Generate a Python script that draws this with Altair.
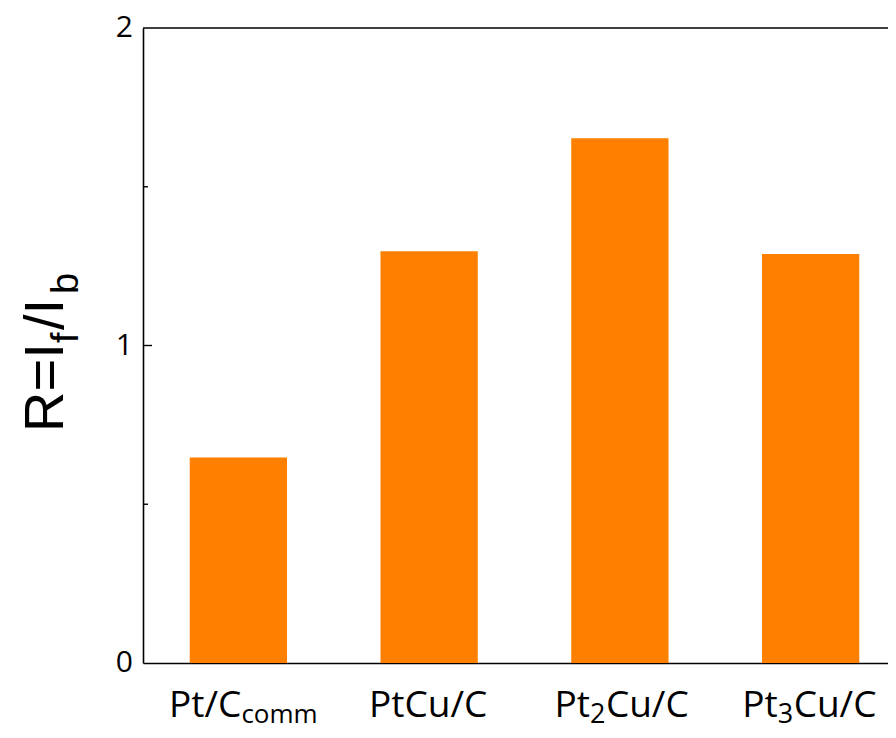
import altair as alt
import pandas as pd

# ---- data ----
categories = ["Pt/C_comm", "PtCu/C", "Pt2Cu/C", "Pt3Cu/C"]
ratios = [0.647, 1.297, 1.653, 1.288]
label_main = ["Pt/C", "PtCu/C", "Pt", "Pt"]
label_sub = ["comm", "", "2", "3"]
label_tail = ["", "", "Cu/C", "Cu/C"]
y_major = [0, 1, 2]
y_minor = [0.5, 1.5]
title_parts = ["R=I", "f", "/I", "b"]

df = pd.DataFrame({"cat": categories, "R": ratios,
                   "main": label_main, "sub": label_sub, "tail": label_tail})

W, H = 745, 635
LABEL_FONT = "Open Sans"
TITLE_FONT = "Liberation Sans"

xscale = alt.Scale(domain=categories, range=[0, 763], paddingInner=0.49, paddingOuter=0.245)
yscale = alt.Scale(domain=[0, 2], nice=False, zero=True)

bars = alt.Chart(df).mark_bar(color="#FF8000").encode(
    x=alt.X("cat:N", scale=xscale, sort=categories,
            axis=alt.Axis(title=None, labels=False, ticks=False, domain=True,
                          domainColor="black", domainWidth=1.6, grid=False)),
    y=alt.Y("R:Q", scale=yscale,
            axis=alt.Axis(title=None, values=y_major, labels=False, ticks=False,
                          domainColor="black", domainWidth=1.6, grid=False)),
)

ticklabels = alt.Chart(pd.DataFrame({"v": y_major})).mark_text(
    align="right", baseline="middle", dx=-10, font=LABEL_FONT, fontSize=30, color="black"
).encode(y=alt.Y("v:Q", title=None), x=alt.value(0), text=alt.Text("v:Q", format="d"))

major = alt.Chart(pd.DataFrame({"v": y_major[1:-1]})).mark_rule(color="black", strokeWidth=1.4).encode(
    y=alt.Y("v:Q", title=None), x=alt.value(0), x2=alt.value(9))
minor = alt.Chart(pd.DataFrame({"v": y_minor})).mark_rule(color="black", strokeWidth=1.4).encode(
    y=alt.Y("v:Q", title=None), x=alt.value(0), x2=alt.value(5))
top = alt.Chart(pd.DataFrame({"v": [y_major[-1]]})).mark_rule(color="black", strokeWidth=1.6).encode(
    y=alt.Y("v:Q", title=None), x=alt.value(0), x2=alt.value(W))


def piece(cat, field, dx, size, ypos, align):
    return alt.Chart(df).transform_filter(alt.datum.cat == cat).mark_text(
        align=align, baseline="alphabetic", dx=dx, font=LABEL_FONT, fontSize=size, color="black"
    ).encode(x=alt.X("cat:N", title=None), y=alt.value(ypos), text=f"{field}:N")


MAIN_Y, SUB_Y = 689, 695
MAIN_S, SUB_S, SUB_S2 = 37, 27, 26
labels = [
    piece(categories[0], "main", 3, MAIN_S, MAIN_Y, "right"),
    piece(categories[0], "sub", 3, SUB_S2, SUB_Y, "left"),
    piece(categories[1], "main", -1, MAIN_S, MAIN_Y, "center"),
    piece(categories[2], "main", -30, MAIN_S, MAIN_Y, "right"),
    piece(categories[2], "sub", -30, SUB_S, SUB_Y, "left"),
    piece(categories[2], "tail", -14, MAIN_S, MAIN_Y, "left"),
    piece(categories[3], "main", -33, MAIN_S, MAIN_Y, "right"),
    piece(categories[3], "sub", -33, SUB_S, SUB_Y, "left"),
    piece(categories[3], "tail", -17, MAIN_S, MAIN_Y, "left"),
]


def tpiece(text, xpos, ypos, size):
    return alt.Chart(pd.DataFrame({"t": [text]})).mark_text(
        angle=270, align="left", baseline="alphabetic", font=TITLE_FONT, fontSize=size, color="black"
    ).encode(x=alt.value(xpos), y=alt.value(ypos), text="t:N")


TMAIN_X, TSUB_X = -80, -65
title = [
    tpiece(title_parts[0], TMAIN_X, 404, 56),
    tpiece(title_parts[1], TSUB_X, 315, 38),
    tpiece(title_parts[2], TMAIN_X, 302, 56),
    tpiece(title_parts[3], TSUB_X, 266, 38),
]

chart = alt.layer(bars, ticklabels, major, minor, top, *labels, *title).properties(
    width=W, height=H,
    autosize=alt.AutoSizeParams(type="none"),
    padding={"left": 135, "top": 20, "right": 0, "bottom": 67},
    background="white",
).configure_view(stroke=None)

chart.save("out.html", embed_options={"renderer": "svg", "actions": False})
